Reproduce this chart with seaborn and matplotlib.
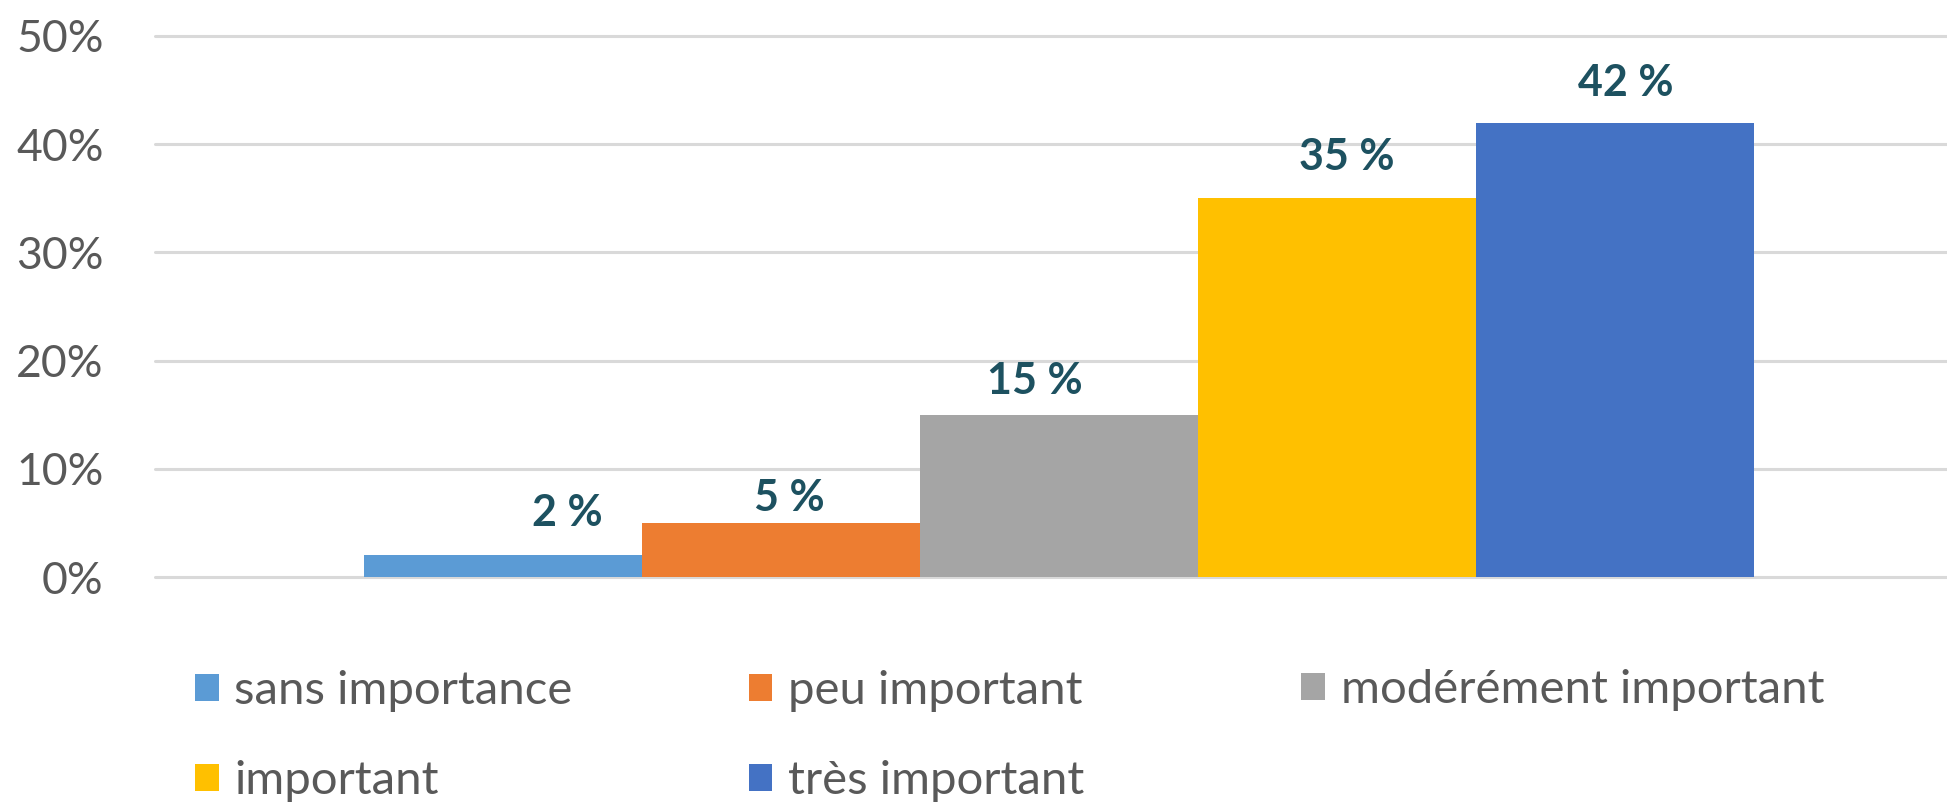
import matplotlib
matplotlib.use("Agg")
import matplotlib.pyplot as plt
import matplotlib.ticker as mticker
import seaborn as sns
import pandas as pd

# Données
categories = ["sans importance", "peu important", "modérément important",
              "important", "très important"]
valeurs = [0.02, 0.05, 0.15, 0.35, 0.42]
etiquettes = ["2 %", "5 %", "15 %", "35 %", "42 %"]

# Couleurs Office
couleurs = ["#5B9BD5", "#ED7D31", "#A5A5A5", "#FFC000", "#4472C4"]
# décalage des étiquettes (px) tel que déplacé à la main dans l'original
label_dx = [64, 8, -24, 10, 11]
label_dy = [22, 5, 14, 21, 20]

TEXT_COL = "#595959"
LABEL_COL = "#1D5160"
GRID_COL = "#D9D9D9"

df = pd.DataFrame({"cat": categories, "val": valeurs})

sns.set_theme(style="white")
plt.rcParams["font.family"] = ["Lato", "DejaVu Sans"]

fig = plt.figure(figsize=(19.47, 8.02), dpi=100)
ax = fig.add_axes([155 / 1947, 225 / 802, 1 - 155 / 1947, (577 - 36) / 802])

sns.barplot(data=df, x="cat", y="val", hue="cat", palette=couleurs,
            hue_order=categories, order=categories, dodge=False,
            width=1.0, saturation=1.0, linewidth=0, ax=ax, legend=True)

ax.set_ylim(0, 0.5)
ax.set_xlim(-1.252, 5.194)
ax.yaxis.set_major_locator(mticker.MultipleLocator(0.1))
ax.yaxis.set_major_formatter(mticker.PercentFormatter(1.0, decimals=0))
ax.set_xticks([])
ax.set_xlabel("")
ax.set_ylabel("")
ax.tick_params(axis="y", length=0, pad=37, labelsize=32, labelcolor=TEXT_COL)
for s in ax.spines.values():
    s.set_visible(False)
ax.set_axisbelow(True)
ax.grid(axis="y", color=GRID_COL, linewidth=2.2)
ax.grid(axis="x", visible=False)
for gl in ax.get_ygridlines():
    gl.set_clip_on(False)

# étiquettes de valeurs
for i, (v, lab) in enumerate(zip(valeurs, etiquettes)):
    ax.annotate(lab, xy=(i, v), xytext=(label_dx[i] * 0.72, label_dy[i] * 0.72),
                textcoords="offset points", ha="center", va="bottom",
                fontsize=31, fontweight="bold", color=LABEL_COL)

# légende façon Excel : 3 colonnes de largeur égale, remplies ligne par ligne
handles, labels = ax.get_legend_handles_labels()
ax.get_legend().remove()
colonnes = [[0, 3], [1, 4], [2]]
col_x = [0.1001, 0.3846, 0.6684]
for idx, x0 in zip(colonnes, col_x):
    y0 = 0.082 if len(idx) == 2 else 0.1395
    leg = fig.legend([handles[i] for i in idx], [labels[i] for i in idx],
                     ncol=1, loc="center left", bbox_to_anchor=(x0, y0),
                     frameon=False, fontsize=34, labelcolor=TEXT_COL,
                     handlelength=0.5, handleheight=0.5, handletextpad=0.33,
                     labelspacing=1.02, borderpad=0, borderaxespad=0)

fig.savefig("out.png", dpi=100, facecolor="white")
